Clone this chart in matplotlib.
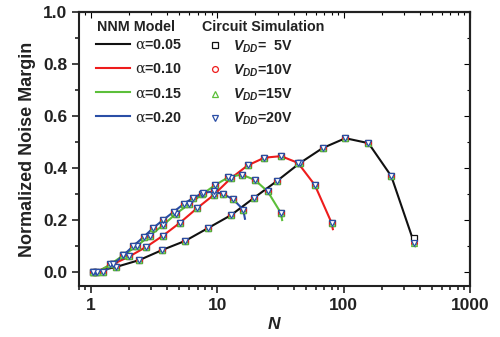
import matplotlib
matplotlib.use("Agg")
import matplotlib.pyplot as plt
from matplotlib.lines import Line2D
from matplotlib.ticker import MultipleLocator, LogLocator, NullFormatter

plt.rcParams["font.family"] = ["Liberation Sans", "DejaVu Sans"]
plt.rcParams["font.weight"] = "bold"
plt.rcParams["mathtext.fontset"] = "custom"
plt.rcParams["mathtext.rm"] = "Liberation Sans:bold"
plt.rcParams["mathtext.it"] = "Liberation Sans:bold:italic"
plt.rcParams["mathtext.bf"] = "Liberation Sans:bold"
plt.rcParams["mathtext.sf"] = "DejaVu Serif:regular"

# simulation points (N, normalized noise margin) for each alpha
n_005 = [1.04, 1.58, 2.4, 3.65, 5.55, 8.4, 12.8, 19.4, 29.5, 44.8, 68, 103, 157, 238, 362]
y_005 = [0.0, 0.02, 0.046, 0.085, 0.12, 0.169, 0.219, 0.285, 0.35, 0.419, 0.477, 0.515, 0.496, 0.369, 0.11]
y_005_5v_last = 0.13

n_010 = [1.09, 1.48, 2.0, 2.73, 3.7, 5.05, 6.9, 9.3, 12.7, 17.3, 23.5, 31.9, 43.4, 59, 80]
y_010 = [0.0, 0.03, 0.06, 0.097, 0.14, 0.19, 0.246, 0.296, 0.36, 0.41, 0.44, 0.446, 0.42, 0.335, 0.19]

n_015 = [1.12, 1.42, 1.8, 2.3, 2.9, 3.7, 4.7, 6.0, 7.6, 9.6, 12.2, 15.5, 19.7, 25, 31.8]
y_015 = [0.0, 0.03, 0.065, 0.1, 0.14, 0.18, 0.225, 0.262, 0.3, 0.335, 0.365, 0.375, 0.355, 0.31, 0.227]

n_020 = [1.04, 1.25, 1.5, 1.8, 2.15, 2.6, 3.1, 3.7, 4.5, 5.4, 6.4, 7.7, 9.3, 11.1, 13.3, 16]
y_020 = [0.0, 0.0, 0.03, 0.065, 0.1, 0.135, 0.17, 0.2, 0.232, 0.262, 0.285, 0.305, 0.31, 0.3, 0.28, 0.24]

# model curve end points (the curves run a little past the last simulation point)
end_005 = (370, 0.10)
end_010 = (82, 0.165)
end_015 = (32.5, 0.2)
end_020 = (16.5, 0.205)

alphas = ["0.05", "0.10", "0.15", "0.20"]
line_colors = ["#111111", "#ee1c1c", "#5cbf3a", "#2a4ea6"]
vdd_labels = [r"$V_{DD}$=  5V", r"$V_{DD}$=10V", r"$V_{DD}$=15V", r"$V_{DD}$=20V"]
vdd_markers = ["s", "o", "^", "v"]
vdd_colors = ["#111111", "#ee1c1c", "#5cbf3a", "#2a4ea6"]

series = [(n_005, y_005, end_005), (n_010, y_010, end_010),
          (n_015, y_015, end_015), (n_020, y_020, end_020)]

fig = plt.figure(figsize=(5.0, 3.37), dpi=100)
ax = fig.add_axes([0.158, 0.151, 0.782, 0.813])

for (n, y, end), c in zip(series, line_colors):
    ax.plot(list(n) + [end[0]], list(y) + [end[1]], color=c, lw=1.5, zorder=2)

for k, (m, mc) in enumerate(zip(vdd_markers, vdd_colors)):
    for i, (n, y, end) in enumerate(series):
        yy = list(y)
        if k == 0 and i == 0:
            yy[-1] = y_005_5v_last
        ax.plot(n, yy, ls="none", marker=m, ms=4.2, mfc="white", mec=mc,
                mew=0.9, zorder=3 + k)

ax.set_xscale("log")
ax.set_xlim(0.8, 1000)
ax.set_ylim(-0.054, 1.0)
ax.set_xticks([1, 10, 100, 1000], labels=["1", "10", "100", "1000"])
ax.xaxis.set_minor_locator(LogLocator(base=10, subs=range(2, 10)))
ax.xaxis.set_minor_formatter(NullFormatter())
ax.yaxis.set_major_locator(MultipleLocator(0.2))
ax.yaxis.set_minor_locator(MultipleLocator(0.1))
ax.yaxis.set_major_formatter(plt.FormatStrFormatter("%.1f"))

for s in ax.spines.values():
    s.set_linewidth(1.5)
ax.tick_params(which="both", direction="out", width=1.2, labelsize=12.5,
               colors="#222222")
ax.tick_params(which="major", length=5)
ax.tick_params(which="minor", length=3)
sec_x = ax.secondary_xaxis("top")
sec_x.set_xticks([1, 10, 100, 1000])
sec_x.xaxis.set_minor_locator(LogLocator(base=10, subs=range(2, 10)))
sec_x.xaxis.set_minor_formatter(NullFormatter())
sec_x.tick_params(which="both", direction="in", labeltop=False, width=0.8)
sec_x.tick_params(which="major", length=4)
sec_x.tick_params(which="minor", length=2)
sec_y = ax.secondary_yaxis("right")
sec_y.yaxis.set_major_locator(MultipleLocator(0.2))
sec_y.yaxis.set_minor_locator(MultipleLocator(0.1))
sec_y.tick_params(which="both", direction="in", labelright=False, width=0.8)
sec_y.tick_params(which="major", length=4)
sec_y.tick_params(which="minor", length=2)
sec_x.spines["top"].set_linewidth(1.5)
sec_y.spines["right"].set_linewidth(1.5)
for s in ax.spines.values():
    s.set_color("#222222")

ax.set_ylabel("Normalized Noise Margin", fontsize=13, fontweight="bold",
              labelpad=5, color="#222222")
ax.set_xlabel("$N$", fontsize=12.5, labelpad=2, color="#222222")

# legend headers
ax.text(0.046, 0.946, "NNM Model", transform=ax.transAxes, fontsize=10.3,
        fontweight="bold", va="center", ha="left", color="#222222")
ax.text(0.315, 0.946, "Circuit Simulation", transform=ax.transAxes, fontsize=10.3,
        fontweight="bold", va="center", ha="left", color="#222222")

line_handles = [Line2D([], [], color=c, lw=1.5) for c in line_colors]
line_labels = [r"$\mathsf{\alpha}$=" + a for a in alphas]
leg1 = ax.legend(line_handles, line_labels, loc="upper left",
                 bbox_to_anchor=(0.043, 0.905), frameon=False, fontsize=10.3,
                 handlelength=2.4, handletextpad=0.36, labelspacing=0.7,
                 borderaxespad=0.0, borderpad=0.0, labelcolor="#222222")
ax.add_artist(leg1)

mk_handles = [Line2D([], [], ls="none", marker=m, ms=4.2, mfc="white", mec=c, mew=0.9)
              for m, c in zip(vdd_markers, vdd_colors)]
ax.legend(mk_handles, vdd_labels, loc="upper left",
          bbox_to_anchor=(0.322, 0.905), frameon=False, fontsize=10.3,
          handlelength=1.44, handletextpad=0.5, labelspacing=0.55,
          borderaxespad=0.0, borderpad=0.0, labelcolor="#222222")

fig.savefig("out.png", dpi=100)
